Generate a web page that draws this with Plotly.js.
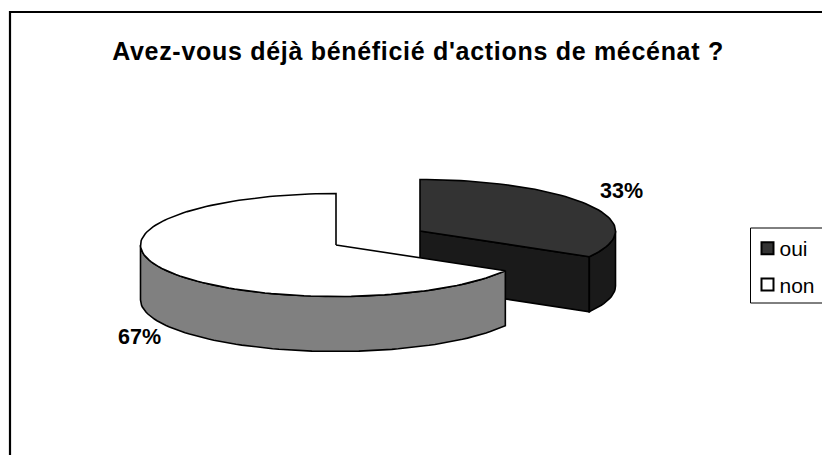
<!DOCTYPE html>
<html>
<head>
<meta charset="utf-8">
<script src="https://cdn.plot.ly/plotly-3.0.1.min.js"></script>
<style>html,body{margin:0;padding:0;background:#fff;overflow:hidden}
.gtitle{letter-spacing:.7px}</style>
</head>
<body>
<div id="chart" style="width:822px;height:455px"></div>
<script>
const categories = ["oui", "non"];
const values = [33.33, 66.67];
const valueLabels = ["33%", "67%"];
const titleText = "Avez-vous déjà bénéficié d'actions de mécénat ?";

const topColors = ["#333333", "#ffffff"];
const sideColors = ["#1a1a1a", "#808080"];
const centers = [[420, 231], [336, 245]];
const rx = 195.5, ry = 51.5, depth = 55;
const labelPos = [[621.5, 191], [139.5, 337]];

const total = values[0] + values[1];
const sweeps = values.map(v => v / total * 360);
const startAngles = [0, sweeps[0]];
const rad = d => d * Math.PI / 180;
const pt = (c, a, dy) => [c[0] + rx * Math.sin(rad(a)), c[1] - ry * Math.cos(rad(a)) + (dy || 0)];
function arc(c, a0, a1, dy) {
  const n = Math.max(2, Math.ceil(Math.abs(a1 - a0) / 2));
  const out = [];
  for (let i = 0; i <= n; i++) out.push(pt(c, a0 + (a1 - a0) * i / n, dy));
  return out;
}
function poly(points, fill) {
  return {
    type: "scatter", mode: "lines",
    x: points.map(p => p[0]), y: points.map(p => p[1]),
    fill: "toself", fillcolor: fill,
    line: {color: "#000", width: 1.6, shape: "linear"},
    showlegend: false, hoverinfo: "skip"
  };
}

const traces = [];
values.forEach((v, i) => {
  const c = centers[i], a0 = startAngles[i], a1 = a0 + sweeps[i];
  if (i === 0) {
    const e = pt(c, a1);
    traces.push(poly([c, e, [e[0], e[1] + depth], [c[0], c[1] + depth], c], sideColors[i]));
  }
  const s0 = Math.max(a0, 90), s1 = Math.min(a1, 270);
  if (s1 > s0) {
    const upper = arc(c, s0, s1);
    const lower = arc(c, s0, s1, depth).reverse();
    traces.push(poly(upper.concat(lower, [upper[0]]), sideColors[i]));
  }
  traces.push(poly([c].concat(arc(c, a0, a1), [c]), topColors[i]));
});

categories.forEach((name, i) => traces.push({
  type: "scatter", mode: "markers", x: [null], y: [null], name, legendgroup: name,
  marker: {symbol: "square", size: 14, color: topColors[i], line: {color: "#000", width: 1.6}},
  hoverinfo: "skip"
}));

const layout = {
  width: 822, height: 455,
  margin: {l: 0, r: 0, t: 0, b: 0, autoexpand: false},
  paper_bgcolor: "#fff", plot_bgcolor: "#fff",
  font: {family: "Liberation Sans, Arial, sans-serif", color: "#000"},
  title: {text: titleText, font: {size: 25, family: "Liberation Sans, Arial, sans-serif", weight: 700, color: "#000"},
          x: 418 / 822, xanchor: "center", y: 1 - 51 / 455, yanchor: "middle"},
  xaxis: {range: [0, 822], visible: false, fixedrange: true},
  yaxis: {range: [455, 0], visible: false, fixedrange: true},
  showlegend: true,
  legend: {x: 747.5 / 822, xanchor: "left", y: 1 - 228 / 455, yanchor: "top",
           bgcolor: "rgba(0,0,0,0)", borderwidth: 0,
           font: {size: 21, family: "Liberation Sans, Arial, sans-serif", color: "#000"},
           itemsizing: "constant", itemwidth: 30, tracegroupgap: 6},
  shapes: [
    {type: "rect", xref: "paper", yref: "paper", x0: 10 / 822, x1: 1.02, y0: -0.02, y1: 1 - 12 / 455,
     line: {color: "#000", width: 2.2}, fillcolor: "rgba(0,0,0,0)", layer: "below"},
    {type: "rect", xref: "paper", yref: "paper", x0: 750.5 / 822, x1: 1.02, y0: 1 - 303 / 455, y1: 1 - 228 / 455,
     line: {color: "#000", width: 1}, fillcolor: "#fff", layer: "below"}
  ],
  annotations: valueLabels.map((t, i) => ({
    x: labelPos[i][0], y: labelPos[i][1], xref: "x", yref: "y", text: t, showarrow: false,
    font: {size: 21.5, weight: 700, family: "Liberation Sans, Arial, sans-serif", color: "#000"}
  }))
};
Plotly.newPlot("chart", traces, layout, {displayModeBar: false, staticPlot: true}).then(() => {
  document.querySelectorAll(".legendtext").forEach(t => t.setAttribute("x", 32));
});
</script>
</body>
</html>
